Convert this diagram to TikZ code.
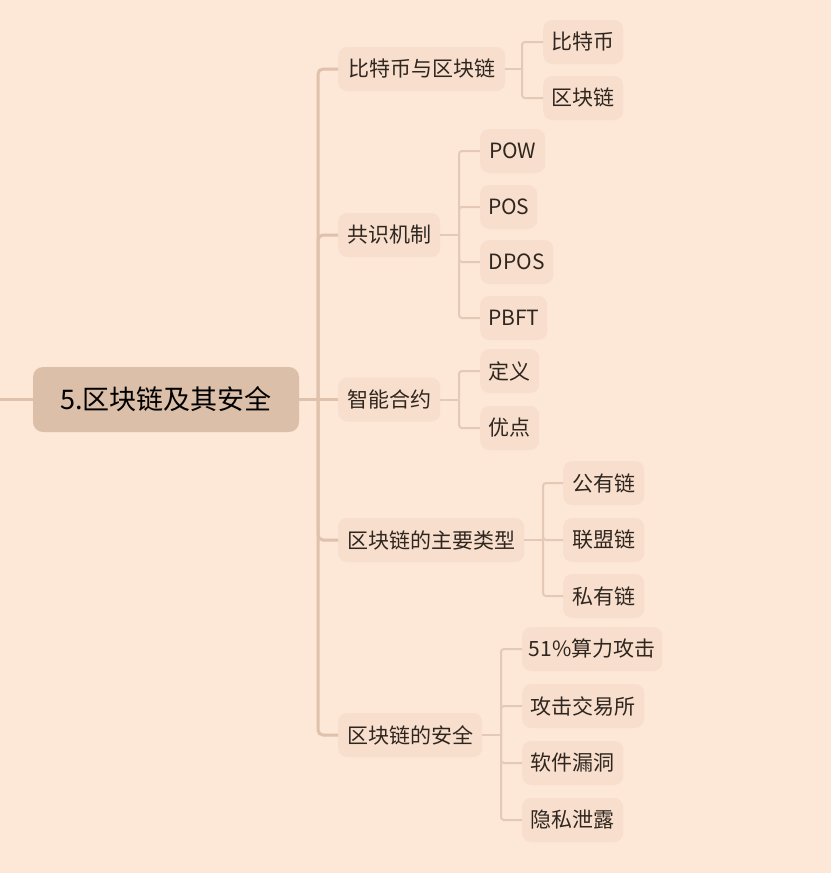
\documentclass[tikz,border=0pt]{standalone}
\usepackage{fontspec}
\setmainfont{Noto Sans CJK SC}
\definecolor{bg}{HTML}{FDE7D7}
\definecolor{rootfill}{HTML}{DBBFA9}
\definecolor{nodefill}{HTML}{F8DFCD}
\definecolor{spinecol}{HTML}{DEC2AC}
\definecolor{linecol}{HTML}{E4CAB6}
\definecolor{txt}{HTML}{302620}
\begin{document}
\begin{tikzpicture}[x=1pt,y=-1pt,
  rootbox/.style={fill=rootfill, rounded corners=10pt, minimum width=266pt, minimum height=65pt, inner sep=0pt, font=\fontsize{27}{31}\selectfont, text=black},
  topicbox/.style={fill=nodefill, rounded corners=9pt, minimum height=44pt, inner sep=0pt, anchor=west, font=\fontsize{21}{25}\selectfont, text=txt},
  spine/.style={draw=spinecol, line width=3pt, rounded corners=5pt},
  branch/.style={draw=linecol, line width=2pt, rounded corners=3pt}]
\fill[bg] (0,0) rectangle (831,873);
\useasboundingbox (0,0) rectangle (831,873);
% root
\node[rootbox] (root) at (166,399.5) {5.区块链及其安全};
\coordinate (lft) at (0,399.5);
\coordinate (sp) at (318,399.5);
% level 1
\node[topicbox, minimum width=167pt] (a) at (338,69) {比特币与区块链};
\node[topicbox, minimum width=102pt] (b) at (338,235) {共识机制};
\node[topicbox, minimum width=102pt] (c) at (338,399.5) {智能合约};
\node[topicbox, minimum width=186pt] (d) at (338,540) {区块链的主要类型};
\node[topicbox, minimum width=144pt] (e) at (338,735) {区块链的安全};
% level 2
\node[topicbox, minimum width=80pt] (a1) at (543,42) {比特币};
\node[topicbox, minimum width=80pt] (a2) at (543,98) {区块链};
\node[topicbox, minimum width=65pt] (b1) at (480,151) {POW};
\node[topicbox, minimum width=57pt] (b2) at (480,207) {POS};
\node[topicbox, minimum width=73pt] (b3) at (480,262) {DPOS};
\node[topicbox, minimum width=67pt] (b4) at (480,318) {PBFT};
\node[topicbox, minimum width=59pt] (c1) at (480,371) {定义};
\node[topicbox, minimum width=59pt] (c2) at (480,428) {优点};
\node[topicbox, minimum width=81pt] (d1) at (563,483) {公有链};
\node[topicbox, minimum width=81pt] (d2) at (563,540) {联盟链};
\node[topicbox, minimum width=81pt] (d3) at (563,596) {私有链};
\node[topicbox, minimum width=140pt] (e1) at (522,649) {51\%算力攻击};
\node[topicbox, minimum width=122pt] (e2) at (522,706) {攻击交易所};
\node[topicbox, minimum width=101pt] (e3) at (522,763) {软件漏洞};
\node[topicbox, minimum width=101pt] (e4) at (522,820) {隐私泄露};
% spine connectors
\draw[spine] (lft) -- (root.west);
\draw[spine] (root.east) -- (sp);
\draw[spine] (sp) |- (a.west);
\draw[spine] (sp) |- (b.west);
\draw[spine] (sp) -- (c.west);
\draw[spine] (sp) |- (d.west);
\draw[spine] (sp) |- (e.west);
% branch connectors
\coordinate (ja) at (522,69);
\draw[branch] (a.east) -- (ja);
\draw[branch] (ja) |- (a1.west);
\draw[branch] (ja) |- (a2.west);
\coordinate (jb) at (459,235);
\draw[branch] (b.east) -- (jb);
\foreach \n in {b1,b2,b3,b4} \draw[branch] (jb) |- (\n.west);
\coordinate (jc) at (459,399.5);
\draw[branch] (c.east) -- (jc);
\foreach \n in {c1,c2} \draw[branch] (jc) |- (\n.west);
\coordinate (jd) at (543,540);
\draw[branch] (d.east) -- (jd);
\foreach \n in {d1,d2,d3} \draw[branch] (jd) |- (\n.west);
\coordinate (je) at (501,735);
\draw[branch] (e.east) -- (je);
\foreach \n in {e1,e2,e3,e4} \draw[branch] (je) |- (\n.west);
\end{tikzpicture}
\end{document}
